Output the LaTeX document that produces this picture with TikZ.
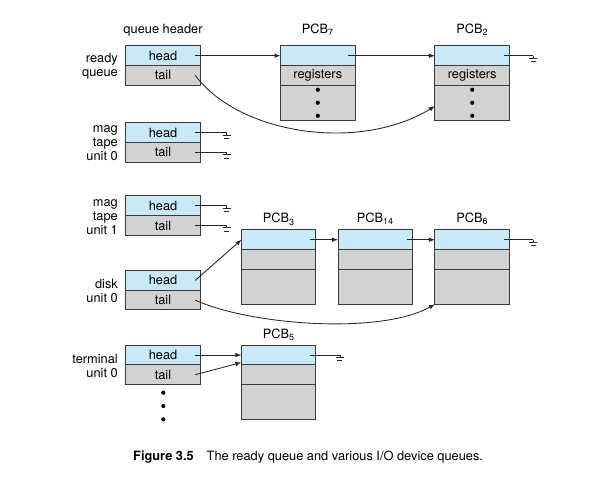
\documentclass[tikz,border=0pt]{standalone}
\usepackage{fontspec}
\setmainfont{TeX Gyre Heros}
\usetikzlibrary{positioning,arrows.meta}

\definecolor{cellblue}{RGB}{199,233,248}
\definecolor{cellgray}{RGB}{209,210,212}
\definecolor{edgegray}{RGB}{58,58,58}

\tikzset{
    txt/.style={font=\fontsize{12.8}{14}\selectfont},
    cell/.style={txt, draw=edgegray, line width=1pt, minimum width=74.5pt, inner sep=0pt, outer sep=0pt},
    headcell/.style={cell, fill=cellblue, minimum height=19.7pt},
    tailcell/.style={cell, fill=cellgray, minimum height=19.7pt},
    restcell/.style={cell, fill=cellgray, minimum height=35pt},
    ptr/.style={line width=0.85pt, draw=black!85, -{Latex[length=6pt,width=4.5pt]}},
    nilptr/.style={line width=0.85pt, draw=black!85},
    sidelbl/.style={txt, align=right, anchor=east, inner sep=0pt},
    groundsym/.pic={
        \draw[line width=0.85pt, black!85] (0,0) -- (0,2.4);
        \draw[line width=0.85pt, black!85] (-4,2.4) -- (4,2.4);
        \draw[line width=0.85pt, black!85] (-2.5,5.7) -- (2.5,5.7);
    }
}

\begin{document}
\begin{tikzpicture}[x=1pt,y=-1pt]
    \useasboundingbox (0,0) rectangle (604,477);

    % Queue headers
    \node[txt] (qhdr) at (163,30) {queue header};
    \node[headcell] (rdyhead) at (163,55.7) {head};
    \node[tailcell, below=0pt of rdyhead] (rdytail) {tail};
    \node[sidelbl] (rdylbl) at (118,66) {ready\\queue};

    \node[headcell] (tape0head) at (163,132.7) {head};
    \node[tailcell, below=0pt of tape0head] (tape0tail) {tail};
    \node[sidelbl] (tape0lbl) at (118,142.7) {mag\\tape\\unit 0};

    \node[headcell] (tape1head) at (163,205.8) {head};
    \node[tailcell, below=0pt of tape1head] (tape1tail) {tail};
    \node[sidelbl] (tape1lbl) at (118,216.7) {mag\\tape\\unit 1};

    \node[headcell] (diskhead) at (163,280.4) {head};
    \node[tailcell, below=0pt of diskhead] (disktail) {tail};
    \node[sidelbl] (disklbl) at (118,290.5) {disk\\unit 0};

    \node[headcell] (termhead) at (163,355) {head};
    \node[tailcell, below=0pt of termhead] (termtail) {tail};
    \node[sidelbl] (termlbl) at (118,365.5) {terminal\\unit 0};

    % PCBs of the ready queue
    \node[headcell] (pcb7a) at (317.8,55.7) {};
    \node[tailcell, below=0pt of pcb7a] (pcb7b) {registers};
    \node[restcell, below=0pt of pcb7b] (pcb7c) {};
    \node[txt] (pcb7lbl) at (317.8,30) {PCB\textsubscript{7}};

    \node[headcell] (pcb2a) at (472.2,55.7) {};
    \node[tailcell, below=0pt of pcb2a] (pcb2b) {registers};
    \node[restcell, below=0pt of pcb2b] (pcb2c) {};
    \node[txt] (pcb2lbl) at (472.2,30) {PCB\textsubscript{2}};

    \foreach \d in {-13,0,13} {
        \fill ([yshift=\d pt]pcb7c.center) circle (2.1pt);
        \fill ([yshift=\d pt]pcb2c.center) circle (2.1pt);
    }

    % PCBs of the disk queue
    \node[headcell] (pcb3a) at (278.7,239.7) {};
    \node[tailcell, below=0pt of pcb3a] (pcb3b) {};
    \node[restcell, below=0pt of pcb3b] (pcb3c) {};
    \node[txt] (pcb3lbl) at (278.7,219.3) {PCB\textsubscript{3}};

    \node[headcell] (pcb14a) at (375.3,239.7) {};
    \node[tailcell, below=0pt of pcb14a] (pcb14b) {};
    \node[restcell, below=0pt of pcb14b] (pcb14c) {};
    \node[txt] (pcb14lbl) at (375.3,218.5) {PCB\textsubscript{14}};

    \node[headcell] (pcb6a) at (472.2,239.7) {};
    \node[tailcell, below=0pt of pcb6a] (pcb6b) {};
    \node[restcell, below=0pt of pcb6b] (pcb6c) {};
    \node[txt] (pcb6lbl) at (472.2,218.5) {PCB\textsubscript{6}};

    % PCB of the terminal queue
    \node[headcell] (pcb5a) at (278.7,355) {};
    \node[tailcell, below=0pt of pcb5a] (pcb5b) {};
    \node[restcell, below=0pt of pcb5b] (pcb5c) {};
    \node[txt] (pcb5lbl) at (278.7,335) {PCB\textsubscript{5}};

    % Ready queue links
    \draw[ptr] ([xshift=-5pt]rdyhead.east) -- (pcb7a.west);
    \draw[ptr] ([xshift=-7pt]pcb7a.east) -- (pcb2a.west);
    \draw[ptr] ([xshift=-5pt]rdytail.east) .. controls (240,135) and (360,152) .. ([yshift=-3.4pt]pcb2c.west);
    \coordinate (pcb2end) at ([xshift=24pt]pcb2a.east);
    \draw[nilptr] ([xshift=-5pt]pcb2a.east) -- (pcb2end) pic {groundsym};

    % Empty tape queues
    \coordinate (tape0hend) at ([xshift=26.4pt]tape0head.east);
    \coordinate (tape0tend) at ([xshift=26.4pt]tape0tail.east);
    \coordinate (tape1hend) at ([xshift=26.4pt]tape1head.east);
    \coordinate (tape1tend) at ([xshift=26.4pt]tape1tail.east);
    \draw[nilptr] ([xshift=-5pt]tape0head.east) -- (tape0hend) pic {groundsym};
    \draw[nilptr] ([xshift=-5pt]tape0tail.east) -- (tape0tend) pic {groundsym};
    \draw[nilptr] ([xshift=-5pt]tape1head.east) -- (tape1hend) pic {groundsym};
    \draw[nilptr] ([xshift=-5pt]tape1tail.east) -- (tape1tend) pic {groundsym};

    % Disk queue links
    \draw[ptr] ([xshift=-5pt]diskhead.east) -- (pcb3a.west);
    \draw[ptr] ([xshift=-6pt]pcb3a.east) -- (pcb14a.west);
    \draw[ptr] ([xshift=-6pt]pcb14a.east) -- (pcb6a.west);
    \draw[ptr] ([xshift=-5pt]disktail.east) .. controls (250,325) and (380,335) .. (pcb6c.south west);
    \coordinate (pcb6end) at ([xshift=24pt]pcb6a.east);
    \draw[nilptr] ([xshift=-5pt]pcb6a.east) -- (pcb6end) pic {groundsym};

    % Terminal queue links
    \draw[ptr] ([xshift=-5pt]termhead.east) -- (pcb5a.west);
    \draw[ptr] ([xshift=-5pt]termtail.east) -- ([yshift=-7.5pt]pcb5a.west);
    \coordinate (pcb5end) at ([xshift=24pt]pcb5a.east);
    \draw[nilptr] ([xshift=-6pt]pcb5a.east) -- (pcb5end) pic {groundsym};

    % More devices
    \foreach \y in {392.7,406,419.3}
        \fill (163.3,\y) circle (2.1pt);

    % Caption
    \node[txt, anchor=west, inner sep=0pt] (caption) at (133,456.7) {\textbf{Figure 3.5}\hspace{13pt}The ready queue and various I/O device queues.};
\end{tikzpicture}
\end{document}
